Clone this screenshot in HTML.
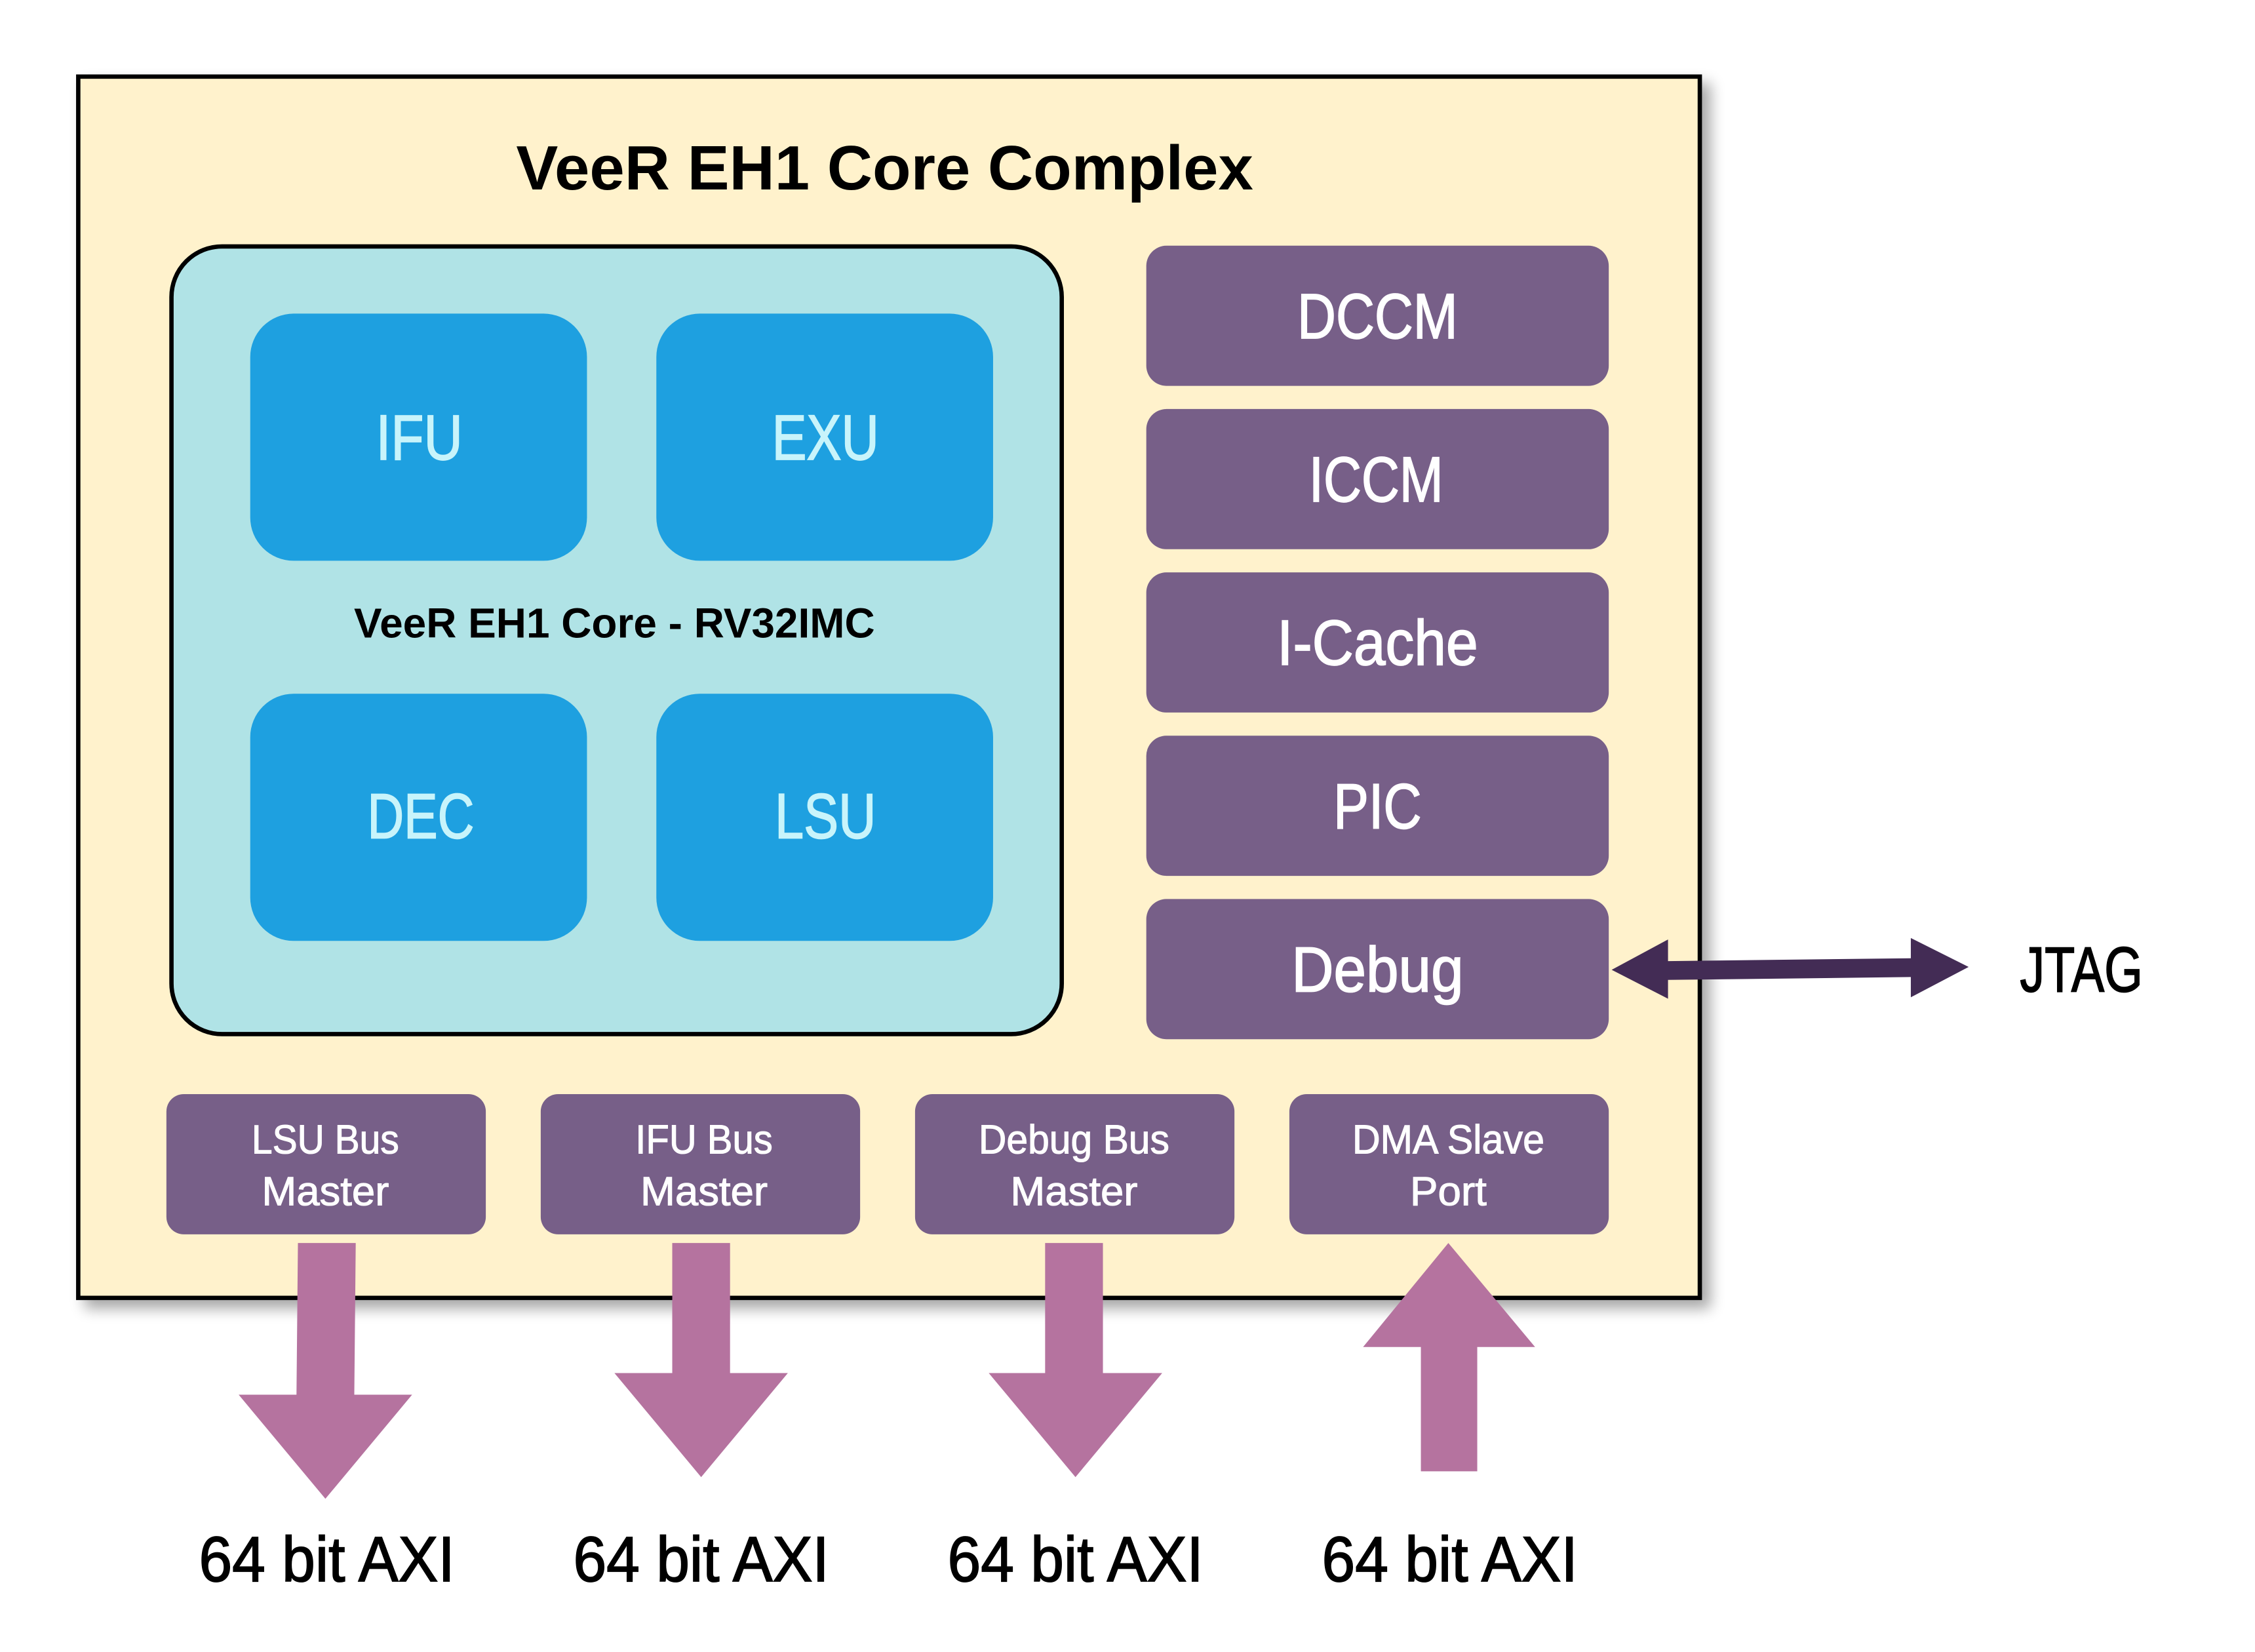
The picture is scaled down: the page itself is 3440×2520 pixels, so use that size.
<!DOCTYPE html>
<html><head><meta charset="utf-8"><style>
html,body{margin:0;padding:0;background:#fff;}
svg{display:block;}
.n{font-family:"Liberation Sans",sans-serif;}
.b{font-family:"Liberation Sans",sans-serif;font-weight:bold;}
</style></head><body>
<svg width="3440" height="2520" viewBox="0 0 1560 1143" xmlns="http://www.w3.org/2000/svg">
<defs>
<filter id="sh" x="-5%" y="-5%" width="115%" height="115%">
<feGaussianBlur in="SourceAlpha" stdDeviation="5"/>
<feOffset dx="6" dy="6"/>
<feComponentTransfer><feFuncA type="linear" slope="0.35"/></feComponentTransfer>
<feMerge><feMergeNode/><feMergeNode in="SourceGraphic"/></feMerge>
</filter>
</defs>
<rect x="54" y="53" width="1122" height="845" fill="#fff2cc" stroke="#000" stroke-width="3" filter="url(#sh)"/>
<text x="612" y="131" text-anchor="middle" class="b" font-size="43.5" fill="#000">VeeR EH1 Core Complex</text>
<rect x="118.5" y="170.5" width="616" height="545" rx="35" fill="#b0e3e6" stroke="#000" stroke-width="3"/>
<g fill="#1ea0e0">
<rect x="173" y="217" width="233" height="171" rx="30"/>
<rect x="454" y="217" width="233" height="171" rx="30"/>
<rect x="173" y="480" width="233" height="171" rx="30"/>
<rect x="454" y="480" width="233" height="171" rx="30"/>
</g>
<g class="n" font-size="44" fill="#c8f4fb" stroke="#c8f4fb" stroke-width="0.8" text-anchor="middle" lengthAdjust="spacingAndGlyphs">
<text x="290" y="318" textLength="60" lengthAdjust="spacingAndGlyphs">IFU</text>
<text x="571" y="318" textLength="74" lengthAdjust="spacingAndGlyphs">EXU</text>
<text x="291" y="580" textLength="74" lengthAdjust="spacingAndGlyphs">DEC</text>
<text x="571" y="580" textLength="70" lengthAdjust="spacingAndGlyphs">LSU</text>
</g>
<text x="425" y="441" text-anchor="middle" class="b" font-size="29" fill="#000">VeeR EH1 Core - RV32IMC</text>
<g fill="#775f88">
<rect x="793" y="170" width="320" height="97" rx="14"/>
<rect x="793" y="283" width="320" height="97" rx="14"/>
<rect x="793" y="396" width="320" height="97" rx="14"/>
<rect x="793" y="509" width="320" height="97" rx="14"/>
<rect x="793" y="622" width="320" height="97" rx="14"/>
<rect x="115" y="757" width="221" height="97" rx="12"/>
<rect x="374" y="757" width="221" height="97" rx="12"/>
<rect x="633" y="757" width="221" height="97" rx="12"/>
<rect x="892" y="757" width="221" height="97" rx="12"/>
</g>
<g class="n" font-size="44" fill="#fff" stroke="#fff" stroke-width="0.8" text-anchor="middle">
<text x="953" y="234" textLength="111" lengthAdjust="spacingAndGlyphs">DCCM</text>
<text x="952" y="347" textLength="93" lengthAdjust="spacingAndGlyphs">ICCM</text>
<text x="953" y="460" textLength="139" lengthAdjust="spacingAndGlyphs">I-Cache</text>
<text x="953" y="573" textLength="61" lengthAdjust="spacingAndGlyphs">PIC</text>
<text x="953" y="686" textLength="119" lengthAdjust="spacingAndGlyphs">Debug</text>
</g>
<g class="n" font-size="28" fill="#fff" stroke="#fff" stroke-width="0.5" text-anchor="middle">
<text x="225" y="798" textLength="102" lengthAdjust="spacingAndGlyphs">LSU Bus</text><text x="225" y="834" textLength="88" lengthAdjust="spacingAndGlyphs">Master</text>
<text x="487" y="798" textLength="95" lengthAdjust="spacingAndGlyphs">IFU Bus</text><text x="487" y="834" textLength="88" lengthAdjust="spacingAndGlyphs">Master</text>
<text x="743" y="798" textLength="132" lengthAdjust="spacingAndGlyphs">Debug Bus</text><text x="743" y="834" textLength="88" lengthAdjust="spacingAndGlyphs">Master</text>
<text x="1002" y="798" textLength="133" lengthAdjust="spacingAndGlyphs">DMA Slave</text><text x="1002" y="834" textLength="53" lengthAdjust="spacingAndGlyphs">Port</text>
</g>
<g fill="#b5739f">
<polygon points="206,860 246,860 245,965 285,965 225,1037 165,965 205,965"/>
<polygon points="465,860 505,860 505,950 545,950 485,1022 425,950 465,950"/>
<polygon points="723,860 763,860 763,950 804,950 744,1022 684,950 723,950"/>
<polygon points="1002,860 1062,932 1022,932 1022,1018 983,1018 983,932 943,932"/>
</g>
<g fill="#432c55">
<polygon points="1115,671 1154,650 1154,665 1322,663 1322,649 1362,669 1322,690 1322,676 1154,678 1154,691"/>
</g>
<text x="1440" y="686" text-anchor="middle" class="n" font-size="44" fill="#000" stroke="#000" stroke-width="0.8" textLength="85" lengthAdjust="spacingAndGlyphs">JTAG</text>
<g class="n" font-size="44" fill="#000" stroke="#000" stroke-width="0.8" text-anchor="middle">
<text x="226" y="1094" textLength="177" lengthAdjust="spacingAndGlyphs">64 bit AXI</text>
<text x="485" y="1094" textLength="177" lengthAdjust="spacingAndGlyphs">64 bit AXI</text>
<text x="744" y="1094" textLength="177" lengthAdjust="spacingAndGlyphs">64 bit AXI</text>
<text x="1003" y="1094" textLength="177" lengthAdjust="spacingAndGlyphs">64 bit AXI</text>
</g>
</svg>
</body></html>
